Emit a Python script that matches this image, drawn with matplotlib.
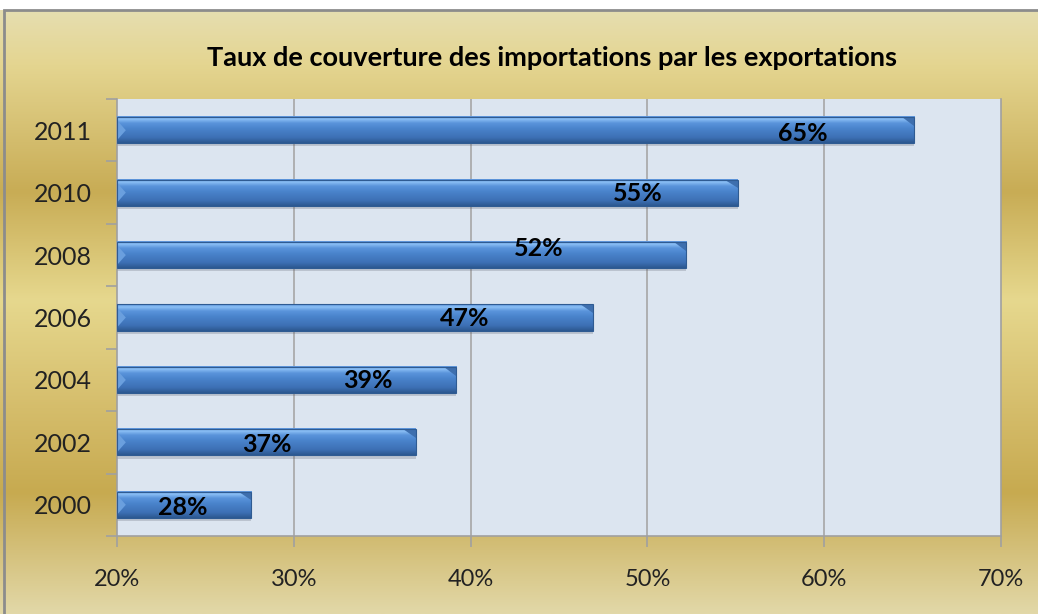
import numpy as np
import matplotlib
matplotlib.use('Agg')
import matplotlib.pyplot as plt
from matplotlib.colors import LinearSegmentedColormap
from matplotlib.patches import Rectangle, Polygon


# Data
years = ['2000', '2002', '2004', '2006', '2008', '2010', '2011']
taux = [27.6, 36.9, 39.2, 46.9, 52.2, 55.1, 65.1]
labels = ['28%', '37%', '39%', '47%', '52%', '55%', '65%']
xticks = [20, 30, 40, 50, 60, 70]
title = 'Taux de couverture des importations par les exportations'

# where the value labels sit along each bar (fraction of bar length)
label_frac = [0.49, 0.5, 0.74, 0.73, 0.74, 0.84, 0.86]
label_dy = [-0.05, -0.04, -0.01, -0.01, 0.11, -0.01, -0.05]

font = 'Lato'
W, H = 1038, 614

fig = plt.figure(figsize=(W / 100, H / 100), dpi=100)
fig.patch.set_facecolor('white')

# gold gradient background (vertical)
bg = fig.add_axes([0, 0, 1, 1], zorder=0)
stops = [(0.0, '#E6DEB0'), (0.09, '#E4D590'), (0.30, '#C8AC55'),
         (0.48, '#E6D88E'), (0.66, '#D5BD6B'), (0.80, '#C7AA50'),
         (1.0, '#E2D8A8')]
gold = LinearSegmentedColormap.from_list('gold', stops)
grad = np.linspace(0, 1, 256).reshape(-1, 1)
bg.imshow(grad, aspect='auto', cmap=gold, extent=[0, 1, 0, 1 - 10 / H], origin='upper')
bg.set_xlim(0, 1)
bg.set_ylim(0, 1)
bg.add_patch(Rectangle((4 / W, -0.01), 1.0, 1 - 10 / H + 0.01, fill=False,
                       edgecolor='#8C8C8C', lw=2))
bg.axis('off')

# plot area
left, right = 117 / W, 1001 / W
top, bottom = 1 - 99 / H, 1 - 536 / H
ax = fig.add_axes([left, bottom, right - left, top - bottom], zorder=1)
ax.set_facecolor('#DCE5F0')

y = np.arange(len(years))
h = 0.42

# gridlines
for xv in xticks[1:-1]:
    ax.axvline(xv, color='#A6A6A6', lw=1.2, zorder=1)

# bar colours (top to bottom)
bar_cmap = LinearSegmentedColormap.from_list(
    'bar', [(0.0, '#5A92DA'), (0.1, '#8CC0F5'), (0.25, '#5B95DC'),
            (0.45, '#4A84CC'), (0.8, '#3D70B5'), (1.0, '#2C5890')])
bgrad = np.linspace(0, 1, 64).reshape(-1, 1)

for yi, v in zip(y, taux):
    # drop shadow
    ax.barh(yi - 0.05, v - 20, left=20, height=h, color='#5A6070', alpha=0.25,
            lw=0, zorder=2)
    ax.imshow(bgrad, aspect='auto', cmap=bar_cmap, origin='upper',
              extent=[20, v, yi - h / 2, yi + h / 2], zorder=3)
    # bevelled right end
    ax.add_patch(Polygon([(v - 0.7, yi + h / 2), (v, yi + h / 2), (v, yi + h / 2 - 0.14)],
                         closed=True, color='#3E6FAE', lw=0, zorder=3.5))
    # bevelled left end
    ax.add_patch(Polygon([(20, yi + h / 2 - 0.05), (20.5, yi), (20, yi - h / 2 + 0.05)],
                         closed=True, color='#6A9FDE', lw=0, zorder=3.5))
    ax.add_patch(Rectangle((20, yi - h / 2), v - 20, h, fill=False,
                           edgecolor='#2F5B92', lw=0.8, zorder=4))

for yi, v, lab, fr, dy in zip(y, taux, labels, label_frac, label_dy):
    ax.text(20 + fr * (v - 20), yi + dy, lab, ha='center', va='center',
            fontsize=18, fontweight='bold', family=font, color='black', zorder=5)

ax.set_aspect('auto')
ax.set_xlim(20, 70)
ax.set_ylim(-0.5, len(years) - 0.5)

ax.set_xticks(xticks)
ax.set_xticklabels([f'{t}%' for t in xticks], fontsize=17, family=font, color='#222222')
ax.set_yticks(y)
ax.set_yticklabels(years, fontsize=18, family=font, color='#222222')
ax.set_yticks(np.arange(-0.5, len(years)), minor=True)
ax.tick_params(axis='y', which='major', length=0, pad=18)
ax.tick_params(axis='y', which='minor', length=8, color='#A0A0A0', width=1.2)
ax.tick_params(axis='x', length=8, color='#A0A0A0', width=1.2, pad=16)

for s in ['left', 'bottom', 'right']:
    ax.spines[s].set_color('#A0A0A0')
    ax.spines[s].set_linewidth(1.2)
ax.spines['top'].set_visible(False)

fig.text(552 / W, 1 - 58 / H, title, ha='center', va='center', fontsize=19.5,
         fontweight='bold', family=font, color='black')

plt.savefig('out.png', dpi=100)
